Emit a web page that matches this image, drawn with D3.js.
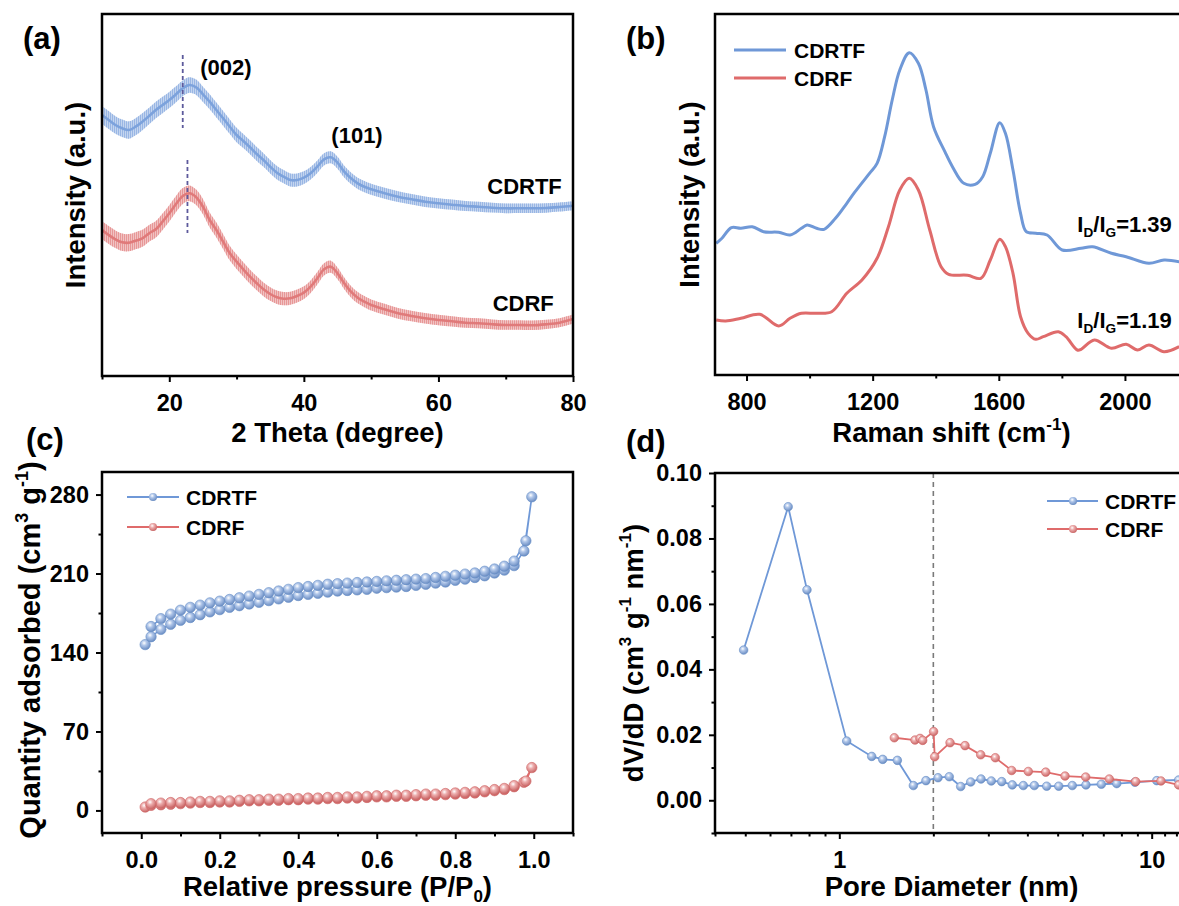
<!DOCTYPE html>
<html>
<head>
<meta charset="utf-8">
<script src="https://cdn.jsdelivr.net/npm/d3@7"></script>
<style>
  body { margin: 0; background: #fff; }
  svg text { font-family: "Liberation Sans", Arial, Helvetica, sans-serif; font-weight: bold; fill: #000; }
</style>
</head>
<body>
<svg id="fig" width="1179" height="906"></svg>
<script>
// ---------- (a) XRD patterns ----------
const xrdTheta = [10,11,12,13,14,15,16,17,18,19,20,21,22,23,24,25,26,27,28,29,30,31,32,33,34,35,36,37,38,39,40,41,42,43,44,45,46,47,48,49,50,52,54,56,58,60,62,64,66,68,70,72,74,76,78,80];
const xrdCDRTF = [2610,2560,2510,2477,2460,2493,2543,2600,2660,2710,2760,2817,2877,2910,2887,2817,2743,2660,2577,2493,2410,2350,2287,2220,2160,2093,2033,1993,1960,1960,1983,2027,2093,2167,2187,2133,2043,1977,1927,1893,1867,1827,1793,1767,1743,1727,1713,1700,1693,1683,1677,1677,1677,1680,1690,1703];
const xrdCDRF = [1460,1410,1367,1337,1333,1353,1377,1427,1467,1543,1627,1720,1800,1827,1787,1693,1560,1460,1343,1227,1143,1067,993,927,867,820,787,773,777,800,833,893,977,1067,1093,1027,927,843,783,743,710,667,627,600,577,560,547,533,527,517,510,510,507,517,533,570];
const xrdPeakLabels = [
  { text: "(002)", theta: 28.4, y: 3010 },
  { text: "(101)", theta: 47.9, y: 2330 }
];
const xrdSampleLabels = [
  { text: "CDRTF", theta: 72.8, y: 1820 },
  { text: "CDRF", theta: 72.6, y: 650 }
];
// (002) peak markers: [theta, from, to]
const xrdPeakMarks = [[22.0, 3210, 2480], [22.7, 2160, 1430]];

// ---------- (b) Raman spectra ----------
const ramanShiftCDRTF = [704,722,752,782,818,854,902,938,974,992,1022,1046,1082,1118,1142,1190,1214,1238,1262,1286,1316,1345,1369,1393,1429,1453,1489,1525,1549,1573,1603,1621,1645,1669,1687,1717,1753,1801,1861,1897,1957,2004,2076,2124,2172];
const ramanCDRTF = [1317,1367,1473,1467,1483,1433,1427,1400,1467,1500,1467,1457,1567,1717,1823,2017,2117,2383,2750,3050,3223,3117,2850,2483,2233,2083,1917,1907,1983,2217,2523,2417,2050,1617,1433,1417,1400,1250,1267,1283,1217,1183,1117,1150,1133];
const ramanShiftCDRF = [704,734,782,842,902,938,974,1022,1070,1118,1166,1214,1250,1286,1316,1345,1381,1417,1441,1501,1543,1573,1603,1621,1645,1669,1693,1717,1741,1789,1813,1849,1861,1903,1957,2004,2040,2076,2124,2172];
const ramanCDRF = [550,540,567,607,490,567,617,617,633,817,950,1167,1483,1850,1967,1850,1450,1083,1007,997,967,1150,1357,1283,1017,583,417,357,383,433,383,250,257,350,267,307,250,300,233,283];
const ramanRatios = [
  { value: "1.39", shift: 1849, y: 1430 },
  { value: "1.19", shift: 1849, y: 470 }
];

// ---------- (c) N2 isotherms ----------
const betAdsP = [0.01,0.025,0.05,0.075,0.1,0.125,0.15,0.175,0.2,0.225,0.25,0.275,0.3,0.325,0.35,0.375,0.4,0.425,0.45,0.475,0.5,0.525,0.55,0.575,0.6,0.625,0.65,0.675,0.7,0.725,0.75,0.775,0.8,0.825,0.85,0.875,0.9,0.925,0.95,0.975,0.995];
const betDesP = [0.98,0.95,0.925,0.9,0.875,0.85,0.825,0.8,0.775,0.75,0.725,0.7,0.675,0.65,0.625,0.6,0.575,0.55,0.525,0.5,0.475,0.45,0.425,0.4,0.375,0.35,0.325,0.3,0.275,0.25,0.225,0.2,0.175,0.15,0.125,0.1,0.075,0.05,0.025];
const betAdsCDRTF = [147,154,160.5,165,168.5,171,173.5,176,178,180,181.5,183,184.5,186,187.5,189,190.5,191.5,192.5,193.5,194.5,195,195.5,196,197,197.5,198,198.5,199.5,200.5,201.5,202.5,204,205,206.5,208,210.5,213,217,230,278];
const betDesCDRTF = [239,221,216.5,214,212,210.5,209.5,208.5,207.5,206.5,205.5,205,204.5,204,203.5,203,202.5,202,201.5,201,200.5,199.5,198.5,197.5,196,194.5,193,191.5,190,188.5,187,185.5,184,182,180,177.5,174,170,163];
const betAdsCDRF = [3,4.5,5,5.5,6,6.5,7,7,7.5,7.5,8,8.5,8.5,9,9,9.5,9.5,10,10,10.5,10.5,11,11,11.5,12,12,12.5,12.5,13,13.5,13.5,14,14.5,15,15.5,16.5,17.5,18.5,21,25,38];
const betDesCDRF = [26,22,19.5,18.5,17.5,16.5,16,15.5,15,14.5,14.5,14,13.5,13.5,13,13,12.5,12,12,11.5,11.5,11,11,10.5,10.5,10,10,9.5,9.5,9,8.5,8.5,8,8,7.5,7,7,6.5,6];

// ---------- (d) pore size distribution ----------
const psdDiamCDRTF = [0.494,0.686,0.788,1.056,1.27,1.377,1.534,1.726,1.894,2.07,2.249,2.447,2.634,2.842,3.066,3.311,3.579,3.882,4.21,4.612,5.04,5.57,6.16,6.90,7.73,8.84,10.38,12.2];
const psdCDRTF = [0.0459,0.0897,0.0643,0.0181,0.0134,0.0125,0.0122,0.0045,0.0060,0.0069,0.0072,0.0042,0.0056,0.0065,0.0059,0.0057,0.0047,0.0045,0.0045,0.0043,0.0043,0.0045,0.0047,0.0049,0.0051,0.0055,0.0060,0.0062];
const psdDiamCDRF = [1.50,1.747,1.813,1.849,2.004,2.02,2.262,2.526,2.836,3.158,3.563,4.027,4.579,5.28,6.148,7.316,8.887,10.71,12.2];
const psdCDRF = [0.0191,0.0184,0.0189,0.0183,0.0210,0.0133,0.0176,0.0167,0.0139,0.0130,0.0091,0.0088,0.0086,0.0074,0.0071,0.0065,0.0057,0.0059,0.0047];
const psdBoundary = 2; // micro / meso pore limit (nm)

const seriesNames = ["CDRTF", "CDRF"];

// ---------- styling ----------
const BLUE = "#6f98d7", RED = "#df6b6b";
const BLUE_XRD = "#7ca2dc", RED_XRD = "#e07a7a";
const TICK_FS = 23.5, TITLE_FS = 27.5, LEG_FS = 21, PANEL_FS = 31;

const svg = d3.select("#fig");
svg.append("rect").attr("width", 1179).attr("height", 906).attr("fill", "#fff");
const defs = svg.append("defs");

function ballGradient(id, base) {
  const g = defs.append("radialGradient").attr("id", id)
    .attr("cx", "40%").attr("cy", "35%").attr("r", "70%");
  g.append("stop").attr("offset", "0%").attr("stop-color", "#ffffff");
  g.append("stop").attr("offset", "35%").attr("stop-color", d3.interpolateRgb("#ffffff", base)(0.55));
  g.append("stop").attr("offset", "100%").attr("stop-color", d3.color(base).darker(0.35));
}
ballGradient("ballBlue", BLUE);
ballGradient("ballRed", RED);

// fine vertical streak texture for the noisy diffraction traces
function streaks(id, col) {
  const p = defs.append("pattern").attr("id", id).attr("patternUnits", "userSpaceOnUse")
    .attr("width", 2).attr("height", 7);
  p.append("rect").attr("x", 0).attr("y", 0).attr("width", 1).attr("height", 7).attr("fill", col);
}
streaks("streakBlue", BLUE_XRD);
streaks("streakRed", RED_XRD);

// text with super/subscript parts
function rich(sel, parts, size) {
  let shift = 0;
  parts.forEach(p => {
    const target = p.sup ? -0.42 * size : (p.sub ? 0.22 * size : 0);
    const ts = sel.append("tspan").text(p.t).attr("dy", target - shift);
    if (p.sup || p.sub) ts.style("font-size", (size * 0.62) + "px");
    shift = target;
  });
}

function panelFrame(box, x, y, cfg, id) {
  const g = svg.append("g");
  defs.append("clipPath").attr("id", id)
    .append("rect").attr("x", box.l).attr("y", box.t)
    .attr("width", box.r - box.l).attr("height", box.b - box.t);

  const styleAxis = a => {
    a.attr("font-size", null).attr("font-family", null);
    a.select(".domain").remove();
    a.selectAll(".tick line").attr("stroke", "#000").attr("stroke-width", 2);
    a.selectAll(".tick text").style("font-size", TICK_FS + "px");
  };
  const xa = g.append("g").attr("transform", `translate(0,${box.b})`)
    .call(d3.axisBottom(x).tickValues(cfg.xMajor).tickFormat(cfg.xFmt).tickSize(6).tickPadding(12));
  styleAxis(xa);
  const xm = g.append("g").attr("transform", `translate(0,${box.b})`)
    .call(d3.axisBottom(x).tickValues(cfg.xMinor).tickFormat("").tickSize(3.5));
  styleAxis(xm);
  if (cfg.yMajor) {
    const ya = g.append("g").attr("transform", `translate(${box.l},0)`)
      .call(d3.axisLeft(y).tickValues(cfg.yMajor).tickFormat(cfg.yFmt).tickSize(6).tickPadding(7));
    styleAxis(ya);
    const ym = g.append("g").attr("transform", `translate(${box.l},0)`)
      .call(d3.axisLeft(y).tickValues(cfg.yMinor).tickFormat("").tickSize(3.5));
    styleAxis(ym);
  }
  return g;
}

function drawBox(box) {
  svg.append("rect").attr("x", box.l).attr("y", box.t)
    .attr("width", box.r - box.l).attr("height", box.b - box.t)
    .attr("fill", "none").attr("stroke", "#000").attr("stroke-width", 2.5);
}

function panelLabel(txt, px, py) {
  svg.append("text").attr("x", px).attr("y", py).style("font-size", PANEL_FS + "px").text(txt);
}

function xTitle(parts, cx, by) {
  const t = svg.append("text").attr("x", cx).attr("y", by).attr("text-anchor", "middle")
    .style("font-size", TITLE_FS + "px");
  rich(t, parts, TITLE_FS);
}
function yTitle(parts, bx, cy, fs = TITLE_FS) {
  const t = svg.append("text").attr("transform", `translate(${bx},${cy}) rotate(-90)`)
    .attr("text-anchor", "middle").style("font-size", fs + "px");
  rich(t, parts, fs);
}

// ================= (a) =================
{
  const box = { l: 102, r: 573, t: 14, b: 376 };
  const x = d3.scaleLinear().domain([10, 80]).range([box.l, box.r]);
  const y = d3.scaleLinear().domain([0, 3620]).range([box.b, box.t]);
  panelFrame(box, x, y, { xMajor: [20, 40, 60, 80], xMinor: [10, 30, 50, 70], xFmt: d3.format("d") }, "clipA");
  const plot = svg.append("g").attr("clip-path", "url(#clipA)");
  const spread = d3.scaleLinear().domain([10, 30, 50, 80]).range([90, 72, 55, 45]).clamp(true);
  [[xrdCDRTF, BLUE_XRD, "streakBlue"], [xrdCDRF, RED_XRD, "streakRed"]].forEach(([vals, col, pat]) => {
    const pts = xrdTheta.map((t, i) => [t, vals[i]]);
    const band = d3.area().x(d => x(d[0])).y0(d => y(d[1] - spread(d[0]))).y1(d => y(d[1] + spread(d[0])))
      .curve(d3.curveCatmullRom);
    plot.append("path").datum(pts).attr("d", band).attr("fill", col).attr("fill-opacity", 0.45);
    plot.append("path").datum(pts).attr("d", band).attr("fill", `url(#${pat})`).attr("fill-opacity", 0.6);
    plot.append("path").datum(pts)
      .attr("d", d3.line().x(d => x(d[0])).y(d => y(d[1])).curve(d3.curveCatmullRom))
      .attr("fill", "none").attr("stroke", col).attr("stroke-width", 2.6);
  });
  xrdPeakMarks.forEach(([t, a, b]) => {
    plot.append("line").attr("x1", x(t)).attr("x2", x(t)).attr("y1", y(a)).attr("y2", y(b))
      .attr("stroke", "#5d5a9c").attr("stroke-width", 1.8).attr("stroke-dasharray", "4,3");
  });
  xrdPeakLabels.concat(xrdSampleLabels).forEach(l => {
    svg.append("text").attr("x", x(l.theta)).attr("y", y(l.y)).attr("text-anchor", "middle")
      .style("font-size", "22px").text(l.text);
  });
  drawBox(box);
  panelLabel("(a)", 23, 49);
  xTitle([{ t: "2 Theta (degree)" }], (box.l + box.r) / 2, 442);
  yTitle([{ t: "Intensity (a.u.)" }], 85, (box.t + box.b) / 2);
}

// ================= (b) =================
{
  const box = { l: 715, r: 1188, t: 14, b: 375 };
  const x = d3.scaleLinear().domain([700, 2200]).range([box.l, box.r]);
  const y = d3.scaleLinear().domain([0, 3610]).range([box.b, box.t]);
  panelFrame(box, x, y, { xMajor: [800, 1200, 1600, 2000], xMinor: [1000, 1400, 1800, 2200], xFmt: d3.format("d") }, "clipB");
  const plot = svg.append("g").attr("clip-path", "url(#clipB)");
  const line = d3.line().x(d => x(d[0])).y(d => y(d[1])).curve(d3.curveCatmullRom.alpha(0.5));
  plot.append("path").datum(ramanShiftCDRTF.map((s, i) => [s, ramanCDRTF[i]]))
    .attr("d", line).attr("fill", "none").attr("stroke", BLUE).attr("stroke-width", 3);
  plot.append("path").datum(ramanShiftCDRF.map((s, i) => [s, ramanCDRF[i]]))
    .attr("d", line).attr("fill", "none").attr("stroke", RED).attr("stroke-width", 3);
  ramanRatios.forEach(r => {
    const t = svg.append("text").attr("x", x(r.shift)).attr("y", y(r.y)).style("font-size", "22px");
    rich(t, [{ t: "I" }, { t: "D", sub: true }, { t: "/I" }, { t: "G", sub: true }, { t: "=" + r.value }], 22);
  });
  [BLUE, RED].forEach((c, i) => {
    const ly = 50 + i * 28;
    svg.append("line").attr("x1", box.l + 19).attr("x2", box.l + 71).attr("y1", ly).attr("y2", ly)
      .attr("stroke", c).attr("stroke-width", 3);
    svg.append("text").attr("x", box.l + 79).attr("y", ly).attr("dy", "0.36em")
      .style("font-size", LEG_FS + "px").text(seriesNames[i]);
  });
  drawBox(box);
  panelLabel("(b)", 626, 49);
  xTitle([{ t: "Raman shift (cm" }, { t: "-1", sup: true }, { t: ")" }], (box.l + box.r) / 2, 442);
  yTitle([{ t: "Intensity (a.u.)" }], 699, (box.t + box.b) / 2);
}

// ================= (c) =================
{
  const box = { l: 102, r: 573, t: 472, b: 833 };
  const x = d3.scaleLinear().domain([-0.1, 1.1]).range([box.l, box.r]);
  const y = d3.scaleLinear().domain([-20, 300]).range([box.b, box.t]);
  panelFrame(box, x, y, {
    xMajor: [0, 0.2, 0.4, 0.6, 0.8, 1.0], xMinor: [-0.1, 0.1, 0.3, 0.5, 0.7, 0.9, 1.1], xFmt: d3.format(".1f"),
    yMajor: [0, 70, 140, 210, 280], yMinor: [35, 105, 175, 245], yFmt: d3.format("d")
  }, "clipC");
  const plot = svg.append("g").attr("clip-path", "url(#clipC)");
  const line = d3.line().x(d => x(d[0])).y(d => y(d[1]));
  [[betAdsCDRTF, betDesCDRTF, BLUE, "ballBlue"], [betAdsCDRF, betDesCDRF, RED, "ballRed"]].forEach(([ads, des, c, gr]) => {
    const pts = betAdsP.map((p, i) => [p, ads[i]]).concat(betDesP.map((p, i) => [p, des[i]]));
    plot.append("path").datum(pts).attr("d", line).attr("fill", "none").attr("stroke", c).attr("stroke-width", 1.6);
    plot.selectAll(null).data(pts).join("circle")
      .attr("cx", d => x(d[0])).attr("cy", d => y(d[1])).attr("r", 5.2)
      .attr("fill", `url(#${gr})`).attr("stroke", d3.color(c).darker(0.2)).attr("stroke-width", 0.6);
  });
  [[BLUE, "ballBlue"], [RED, "ballRed"]].forEach(([c, gr], i) => {
    const ly = 497 + i * 30;
    svg.append("line").attr("x1", 127).attr("x2", 179).attr("y1", ly).attr("y2", ly).attr("stroke", c).attr("stroke-width", 1.8);
    svg.append("circle").attr("cx", 153).attr("cy", ly).attr("r", 4).attr("fill", `url(#${gr})`);
    svg.append("text").attr("x", 186).attr("y", ly).attr("dy", "0.36em").style("font-size", LEG_FS + "px").text(seriesNames[i]);
  });
  drawBox(box);
  panelLabel("(c)", 26, 450);
  xTitle([{ t: "Relative pressure (P/P" }, { t: "0", sub: true }, { t: ")" }], (box.l + box.r) / 2, 896);
  yTitle([{ t: "Quantity adsorbed (cm" }, { t: "3", sup: true }, { t: " g" }, { t: "-1", sup: true }, { t: ")" }], 40, 650, 29);
}

// ================= (d) =================
{
  const box = { l: 715, r: 1188, t: 473, b: 833 };
  const x = d3.scaleLog().domain([0.4, 13.07]).range([box.l, box.r]);
  const y = d3.scaleLinear().domain([-0.01, 0.10]).range([box.b, box.t]);
  panelFrame(box, x, y, {
    xMajor: [1, 10], xMinor: [0.4, 0.5, 0.6, 0.7, 0.8, 0.9, 2, 3, 4, 5, 6, 7, 8, 9, 11, 12, 13], xFmt: d3.format("d"),
    yMajor: [0, 0.02, 0.04, 0.06, 0.08, 0.10], yMinor: [-0.01, 0.01, 0.03, 0.05, 0.07, 0.09], yFmt: d3.format(".2f")
  }, "clipD");
  const plot = svg.append("g").attr("clip-path", "url(#clipD)");
  plot.append("line").attr("x1", x(psdBoundary)).attr("x2", x(psdBoundary)).attr("y1", box.t).attr("y2", box.b)
    .attr("stroke", "#7a7a7a").attr("stroke-width", 1.6).attr("stroke-dasharray", "5,4");
  const line = d3.line().x(d => x(d[0])).y(d => y(d[1]));
  [[psdDiamCDRTF, psdCDRTF, BLUE, "ballBlue"], [psdDiamCDRF, psdCDRF, RED, "ballRed"]].forEach(([dd, vv, c, gr]) => {
    const pts = dd.map((d, i) => [d, vv[i]]);
    plot.append("path").datum(pts).attr("d", line).attr("fill", "none").attr("stroke", c).attr("stroke-width", 1.8);
    plot.selectAll(null).data(pts).join("circle")
      .attr("cx", d => x(d[0])).attr("cy", d => y(d[1])).attr("r", 4.3)
      .attr("fill", `url(#${gr})`).attr("stroke", d3.color(c).darker(0.2)).attr("stroke-width", 0.6);
  });
  [[BLUE, "ballBlue"], [RED, "ballRed"]].forEach(([c, gr], i) => {
    const ly = 501 + i * 28;
    svg.append("line").attr("x1", 1047).attr("x2", 1098).attr("y1", ly).attr("y2", ly).attr("stroke", c).attr("stroke-width", 1.8);
    svg.append("circle").attr("cx", 1073).attr("cy", ly).attr("r", 4).attr("fill", `url(#${gr})`);
    svg.append("text").attr("x", 1105).attr("y", ly).attr("dy", "0.36em").style("font-size", LEG_FS + "px").text(seriesNames[i]);
  });
  drawBox(box);
  panelLabel("(d)", 626, 452);
  xTitle([{ t: "Pore Diameter (nm)" }], (box.l + box.r) / 2, 896);
  yTitle([{ t: "dV/dD (cm" }, { t: "3", sup: true }, { t: " g" }, { t: "-1", sup: true }, { t: " nm" }, { t: "-1", sup: true }, { t: ")" }], 643, 653);
}
</script>
</body>
</html>
